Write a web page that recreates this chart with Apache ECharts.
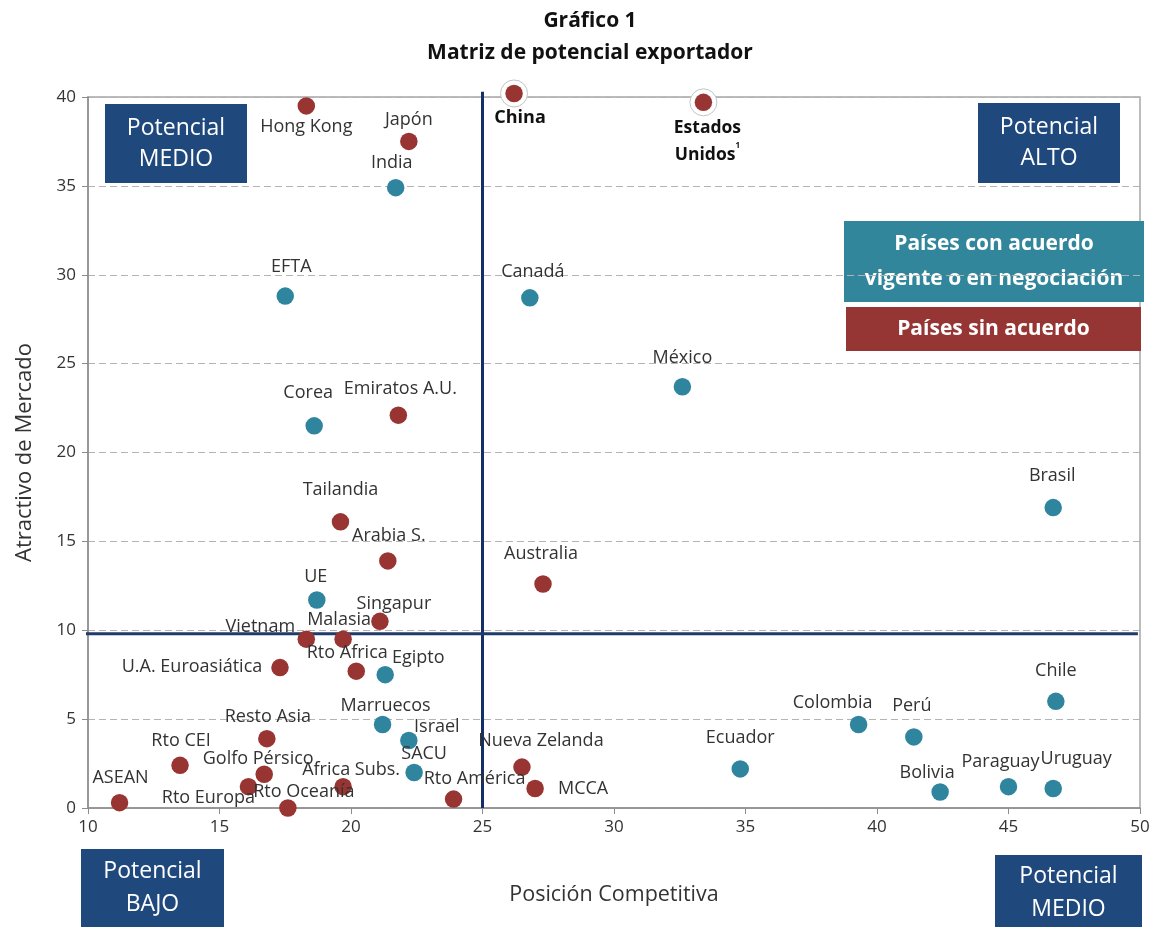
<!DOCTYPE html>
<html>
<head>
<meta charset="utf-8">
<script src="https://cdn.jsdelivr.net/npm/echarts@6/dist/echarts.min.js"></script>
<style>
  html, body { margin: 0; padding: 0; background: #fff; }
  #chart { width: 1156px; height: 927px; }
</style>
</head>
<body>
<div id="chart"></div>
<script>
// Países sin acuerdo: [Posición Competitiva, Atractivo de Mercado]
const sinAcuerdoNames = ['Hong Kong', 'Japón', 'China', 'Estados Unidos', 'Emiratos A.U.', 'Tailandia', 'Arabia S.', 'Australia', 'Singapur', 'Vietnam', 'Malasia', 'U.A. Euroasiática', 'Rto Africa', 'Resto Asia', 'Rto CEI', 'Golfo Pérsico', 'Africa Subs.', 'Rto Europa', 'ASEAN', 'Rto Oceanía', 'Rto América', 'Nueva Zelanda', 'MCCA'];
const sinAcuerdoX = [18.3, 22.2, 26.2, 33.4, 21.8, 19.6, 21.4, 27.3, 21.1, 18.3, 19.7, 17.3, 20.2, 16.8, 13.5, 16.7, 19.7, 16.1, 11.2, 17.6, 23.9, 26.5, 27.0];
const sinAcuerdoY = [39.5, 37.5, 40.2, 39.7, 22.1, 16.1, 13.9, 12.6, 10.5, 9.5, 9.5, 7.9, 7.7, 3.9, 2.4, 1.9, 1.2, 1.2, 0.3, 0.0, 0.5, 2.3, 1.1];

// Países con acuerdo vigente o en negociación
const conAcuerdoNames = ['India', 'EFTA', 'Canadá', 'México', 'Corea', 'Brasil', 'UE', 'Egipto', 'Chile', 'Colombia', 'Perú', 'Marruecos', 'Israel', 'Ecuador', 'SACU', 'Paraguay', 'Uruguay', 'Bolivia'];
const conAcuerdoX = [21.7, 17.5, 26.8, 32.6, 18.6, 46.7, 18.7, 21.3, 46.8, 39.3, 41.4, 21.2, 22.2, 34.8, 22.4, 45.0, 46.7, 42.4];
const conAcuerdoY = [34.9, 28.8, 28.7, 23.7, 21.5, 16.9, 11.7, 7.5, 6.0, 4.7, 4.0, 4.7, 3.8, 2.2, 2.0, 1.2, 1.1, 0.9];

// Cortes de los cuadrantes
const corteX = 25;
const corteY = 9.8;

// Ejes
const xTicks = { min: 10, max: 50, interval: 5 };
const yTicks = { min: 0, max: 40, interval: 5 };

// Mercados destacados (con aro blanco)
const destacados = ['China', 'Estados Unidos'];

// Desplazamiento de cada etiqueta respecto de su punto (px)
const labelOffset = {
  'Hong Kong': [0, 21], 'Japón': [0, -22], 'India': [-4, -25], 'China': [6, 24],
  'Estados Unidos': [4, 39], 'EFTA': [6, -29], 'Canadá': [3, -26], 'México': [0, -29],
  'Corea': [-6, -33], 'Emiratos A.U.': [2, -26], 'Brasil': [-1, -32], 'Tailandia': [0, -32],
  'Arabia S.': [1, -25], 'Australia': [-2, -30], 'UE': [-1, -23], 'Singapur': [14, -17],
  'Malasia': [-4, -19], 'Vietnam': [-46, -12], 'U.A. Euroasiática': [-88, -1],
  'Rto Africa': [-9, -18], 'Egipto': [33, -17], 'Marruecos': [3, -19], 'Resto Asia': [1, -22],
  'Israel': [28, -14], 'Rto CEI': [1, -24], 'Golfo Pérsico': [-6, -15], 'Africa Subs.': [8, -17],
  'SACU': [10, -19], 'ASEAN': [1, -25], 'Rto Europa': [-40, 11], 'Rto Oceanía': [16, -16],
  'Rto América': [21, -20], 'Nueva Zelanda': [19, -26], 'MCCA': [48, 0], 'Ecuador': [0, -31],
  'Colombia': [-26, -22], 'Perú': [-2, -31], 'Chile': [0, -30], 'Bolivia': [-13, -19],
  'Paraguay': [-8, -25], 'Uruguay': [23, -30]
};

const FONT = '"Open Sans", "Noto Sans", sans-serif';
const NAVY = '#1f497d';
const LINE_NAVY = '#132f66';
const TEAL = '#2f859d';
const TEAL_BOX = '#31869b';
const RED = '#983432';
const RED_BOX = '#963634';
const TEXT = '#333';

function buildPoints(names, xs, ys) {
  return names.map(function (n, i) {
    const item = {
      name: n,
      value: [xs[i], ys[i]],
      label: { offset: labelOffset[n] || [0, -24] }
    };
    if (destacados.indexOf(n) >= 0) {
      item.label.fontWeight = 'bold';
      item.label.color = '#111';
      item.label.fontSize = 18;
      if (n === 'Estados Unidos') {
        item.label.formatter = '{b|Estados}\n{b|Unidos}{s|1}';
        item.label.rich = {
          b: { fontFamily: FONT, fontSize: 17.5, fontWeight: 'bold', color: '#111', lineHeight: 27 },
          s: { fontFamily: FONT, fontSize: 8, color: '#111', verticalAlign: 'top', padding: [0, 0, 9, 0] }
        };
      }
    }
    return item;
  });
}

// Aros blancos tomados de los mismos datos
function buildHalos() {
  const out = [];
  sinAcuerdoNames.forEach(function (n, i) {
    if (destacados.indexOf(n) >= 0) out.push([sinAcuerdoX[i], sinAcuerdoY[i]]);
  });
  return out;
}

const labelBase = {
  show: true,
  position: 'inside',
  formatter: '{b}',
  fontFamily: FONT,
  fontSize: 18,
  color: TEXT
};

function box(x, y, w, h, fill, text, opts) {
  opts = opts || {};
  return {
    type: 'group',
    left: x, top: y,
    children: [
      { type: 'rect', shape: { x: 0, y: 0, width: w, height: h }, style: { fill: fill } },
      {
        type: 'text', x: w / 2, y: h / 2 + (opts.dy || 0),
        style: {
          text: text, fill: '#fff', align: 'center', verticalAlign: 'middle',
          font: (opts.bold ? 'bold ' : '') + (opts.size || 23) + 'px ' + FONT,
          lineHeight: opts.lh || 31
        }
      }
    ]
  };
}

const chart = echarts.init(document.getElementById('chart'), null, { renderer: 'canvas' });

chart.setOption({
  backgroundColor: '#fff',
  animation: false,
  title: {
    text: 'Gráfico 1\nMatriz de potencial exportador',
    left: 585, top: 0, textAlign: 'center',
    textStyle: { fontFamily: FONT, fontSize: 21, fontWeight: 'bold', color: '#111', lineHeight: 32 }
  },
  grid: { left: 88, right: 16, top: 97, bottom: 119, show: true, borderColor: '#a6a6a6', borderWidth: 1.5 },
  xAxis: {
    type: 'value', min: xTicks.min, max: xTicks.max, interval: xTicks.interval,
    name: 'Posición Competitiva', nameLocation: 'middle', nameGap: 76,
    nameTextStyle: { fontFamily: FONT, fontSize: 21.5, color: TEXT },
    axisLine: { show: true, lineStyle: { color: '#8c8c8c', width: 1.5 } },
    axisTick: { show: true, length: 6, lineStyle: { color: '#8c8c8c' } },
    axisLabel: { fontFamily: FONT, fontSize: 17, color: TEXT, margin: 11 },
    splitLine: { show: false }
  },
  yAxis: {
    type: 'value', min: yTicks.min, max: yTicks.max, interval: yTicks.interval,
    name: 'Atractivo de Mercado', nameLocation: 'middle', nameGap: 52,
    nameTextStyle: { fontFamily: FONT, fontSize: 22, color: TEXT },
    axisLine: { show: true, lineStyle: { color: '#8c8c8c', width: 1.5 } },
    axisTick: { show: true, length: 6, lineStyle: { color: '#8c8c8c' } },
    axisLabel: { fontFamily: FONT, fontSize: 17, color: TEXT, margin: 12 },
    splitLine: { show: true, lineStyle: { color: '#b3b3b3', type: [7, 4], width: 1.2 } }
  },
  series: [
    {
      name: 'Corte vertical',
      type: 'line', clip: false, silent: true, symbol: 'none', z: 3,
      lineStyle: { color: LINE_NAVY, width: 3 },
      data: [[corteX, yTicks.min], [corteX, yTicks.max + 0.3]]
    },
    {
      name: 'Corte horizontal',
      type: 'line', clip: false, silent: true, symbol: 'none', z: 3,
      lineStyle: { color: '#1f3a6b', width: 3 },
      data: [[xTicks.min - 0.35, corteY], [xTicks.max - 0.08, corteY]]
    },
    {
      name: 'Aro',
      type: 'scatter', symbol: 'circle', symbolSize: 27, clip: false, silent: true, z: 4,
      itemStyle: { color: '#fff', borderColor: '#c4c4c4', borderWidth: 1, opacity: 1 },
      data: buildHalos()
    },
    {
      name: 'Países con acuerdo vigente o en negociación',
      type: 'scatter', symbol: 'circle', symbolSize: 17.5, clip: false, z: 5,
      itemStyle: { color: TEAL, opacity: 1 },
      label: labelBase,
      data: buildPoints(conAcuerdoNames, conAcuerdoX, conAcuerdoY)
    },
    {
      name: 'Países sin acuerdo',
      type: 'scatter', symbol: 'circle', symbolSize: 17.5, clip: false, z: 5,
      itemStyle: { color: RED, opacity: 1 },
      label: labelBase,
      data: buildPoints(sinAcuerdoNames, sinAcuerdoX, sinAcuerdoY)
    }
  ],
  graphic: [
    box(105, 104, 142, 79, NAVY, 'Potencial\nMEDIO'),
    box(978, 103, 142, 80, NAVY, 'Potencial\nALTO'),
    box(844, 221, 300, 81, TEAL_BOX, 'Países con acuerdo\nvigente o en negociación', { bold: true, size: 21, lh: 35 }),
    box(846, 307, 295, 44, RED_BOX, 'Países sin acuerdo', { bold: true, size: 21 }),
    box(81, 849, 143, 78, NAVY, 'Potencial\nBAJO', { lh: 33 }),
    box(995, 855, 147, 72, NAVY, 'Potencial\nMEDIO', { lh: 33, dy: 2 })
  ]
});
</script>
</body>
</html>
